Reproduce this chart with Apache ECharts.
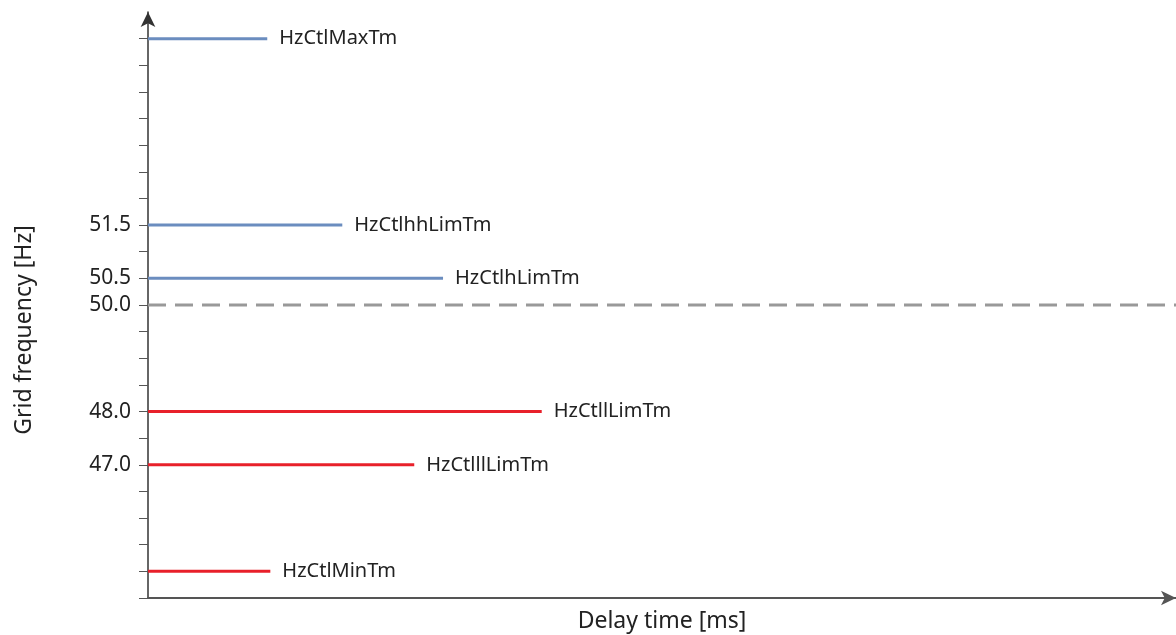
<!DOCTYPE html>
<html>
	<head>
		<meta charset="utf-8" />
		<script type="text/javascript" src="https://cdn.jsdelivr.net/npm/echarts@6/dist/echarts.min.js"></script>
		<title></title>
	</head>
	<body style="margin:0">
		<div id="chartmain" style="width:1176px; height: 635px;"></div>
		<script type="text/javascript">
var names = ['HzCtlMaxTm', 'HzCtlhhLimTm', 'HzCtlhLimTm', 'HzCtllLimTm', 'HzCtlllLimTm', 'HzCtlMinTm'];
var freqs = [55.0, 51.5, 50.5, 48.0, 47.0, 45.0];
var delays = [11.6, 18.9, 28.7, 38.3, 25.9, 11.9];
var colors = ['#6b8dbf', '#6b8dbf', '#6b8dbf', '#e8202a', '#e8202a', '#e8202a'];
var nominal = 50.0;
var xMax = 100;
var yTicks = [44.5, 45, 45.5, 46, 46.5, 47, 47.5, 48, 48.5, 49, 49.5, 50, 50.5, 51, 51.5, 52, 52.5, 53, 53.5, 54, 54.5, 55];
var yLabels = [47.0, 48.0, 50.0, 50.5, 51.5];

var font = '"Noto Sans", sans-serif';
var series = [];
for (var i = 0; i < names.length; i++) {
  series.push({
    type: 'line',
    name: names[i],
    data: [[0, freqs[i]], [delays[i], freqs[i]]],
    symbol: 'none',
    lineStyle: { color: colors[i], width: 3 },
    endLabel: {
      show: true,
      formatter: '{a}',
      distance: 12,
      color: '#222',
      fontSize: 20,
      fontFamily: font
    },
    silent: true,
    animation: false
  });
}
series.push({
  type: 'line',
  name: 'nominal',
  data: [[0, nominal], [xMax, nominal]],
  symbol: 'none',
  lineStyle: { color: '#999', width: 3, type: [18, 9] },
  silent: true,
  animation: false,
  z: 1
});

option = {
  backgroundColor: '#fff',
  grid: { left: 148, right: 0, top: 12, bottom: 37, containLabel: false, outerBoundsMode: 'none' },
  xAxis: {
    type: 'value',
    min: 0,
    max: xMax,
    name: 'Delay time [ms]',
    nameLocation: 'middle',
    nameGap: 12,
    nameTextStyle: { fontSize: 23, color: '#222', fontFamily: font, verticalAlign: 'top' },
    axisLine: { show: true, symbol: ['none', 'arrow'], symbolSize: [11, 15], lineStyle: { color: '#555', width: 2 } },
    axisTick: { show: false },
    axisLabel: { show: false },
    splitLine: { show: false }
  },
  yAxis: {
    type: 'value',
    min: 44.5,
    max: 55.5,
    name: 'Grid frequency [Hz]',
    nameLocation: 'middle',
    nameGap: 112,
    nameTextStyle: { fontSize: 23, color: '#222', fontFamily: font, padding: [0, 50, 0, 0] },
    axisLine: { show: true, symbol: ['none', 'arrow'], symbolSize: [11, 15], lineStyle: { color: '#333', width: 1.5 } },
    axisTick: { show: true, length: 9, customValues: yTicks, lineStyle: { color: '#555', width: 1 } },
    axisLabel: {
      customValues: yLabels,
      margin: 17,
      fontSize: 21,
      color: '#222',
      fontFamily: font,
      formatter: function (v) { return v.toFixed(1); }
    },
    splitLine: { show: false }
  },
  series: series
};
			var myChart = echarts.init(document.getElementById('chartmain'));
			myChart.setOption(option);
		</script>
	</body>
</html>
